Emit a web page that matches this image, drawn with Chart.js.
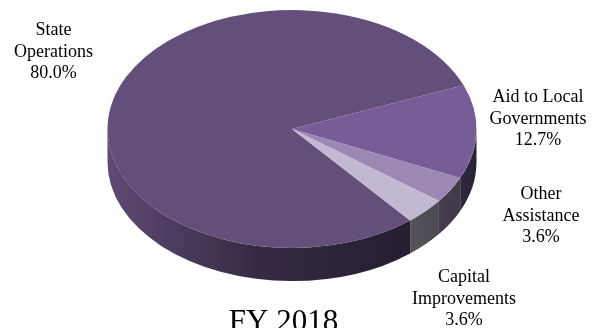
<!DOCTYPE html>
<html>
<head>
<meta charset="utf-8">
<title>FY 2018</title>
<script src="https://cdn.jsdelivr.net/npm/chart.js@4"></script>
<style>
  html, body { margin: 0; padding: 0; background: #fff; overflow: hidden; }
  canvas { display: block; }
</style>
</head>
<body>
<canvas id="chart" width="599" height="328"></canvas>
<script>
const categories = [
  ["State", "Operations"],
  ["Aid to Local", "Governments"],
  ["Other", "Assistance"],
  ["Capital", "Improvements"],
];
const shares = [80.0, 12.7, 3.6, 3.6];
const topColors = ["#644f7a", "#775d97", "#9d87b4", "#c3b8d3"];
// left, middle and right of the gradient on each slice's outer wall
const wallColors = [
  ["#5e4a73", "#352a43", "#251e30"],
  ["#2e263b", "#2c2439", "#2a2237"],
  ["#463d4c", "#443b4a", "#423948"],
  ["#58545c", "#524e57", "#4e4a53"],
];
const chartTitle = "FY 2018";

// centre of each label block and the baseline of its first line
const labelAnchors = [
  [53.5, 35],
  [538, 102],
  [541, 199],
  [464, 282],
];

const FONT = '"Liberation Serif", "Times New Roman", serif';
const centerX = 292;
const centerY = 129;
const radiusX = 184.5;
const radiusY = 119;
const depth = 33;

// keep only the part of a slice that faces the viewer (0..PI, wrapped)
function frontRanges(start, end) {
  const ranges = [];
  for (const offset of [0, Math.PI * 2]) {
    const a = Math.max(start, offset);
    const b = Math.min(end, offset + Math.PI);
    if (b > a) ranges.push([a, b]);
  }
  return ranges;
}

const pieDepth = {
  id: "pieDepth",
  beforeDatasetsDraw(chart) {
    const { ctx } = chart;
    const arcs = chart.getDatasetMeta(0).data;

    arcs.forEach((arc, i) => {
      frontRanges(arc.startAngle, arc.endAngle).forEach(([a, b]) => {
        const x1 = centerX + radiusX * Math.cos(a);
        const x2 = centerX + radiusX * Math.cos(b);
        const left = Math.min(x1, x2);
        const right = Math.max(x1, x2);
        const gradient = ctx.createLinearGradient(left, 0, right, 0);
        gradient.addColorStop(0, wallColors[i][0]);
        gradient.addColorStop(0.5, wallColors[i][1]);
        gradient.addColorStop(1, wallColors[i][2]);

        ctx.beginPath();
        ctx.ellipse(centerX, centerY, radiusX, radiusY, 0, a, b);
        ctx.ellipse(centerX, centerY + depth, radiusX, radiusY, 0, b, a, true);
        ctx.closePath();
        ctx.fillStyle = gradient;
        ctx.fill();
      });
    });

    // flatten the circle the library draws into the top face
    ctx.save();
    ctx.translate(centerX, centerY);
    ctx.scale(1, radiusY / radiusX);
    ctx.translate(-arcs[0].x, -arcs[0].y);
  },
  afterDatasetsDraw(chart) {
    chart.ctx.restore();
  },
};

const sliceLabels = {
  id: "sliceLabels",
  afterDraw(chart) {
    const { ctx } = chart;
    ctx.save();
    ctx.fillStyle = "#000";
    ctx.textAlign = "center";
    ctx.textBaseline = "alphabetic";
    ctx.font = "18px " + FONT;
    categories.forEach((lines, i) => {
      const [x, y] = labelAnchors[i];
      [...lines, shares[i].toFixed(1) + "%"].forEach((line, n) => {
        ctx.fillText(line, x, y + n * 21.5);
      });
    });
    ctx.font = "31px " + FONT;
    ctx.fillText(chartTitle, 283.5, 331);
    ctx.restore();
  },
};

new Chart(document.getElementById("chart"), {
  type: "pie",
  data: {
    labels: categories,
    datasets: [
      {
        data: shares,
        backgroundColor: topColors,
        borderWidth: 0,
        radius: radiusX,
        rotation: 140.2,
        clip: false,
      },
    ],
  },
  options: {
    responsive: false,
    animation: false,
    plugins: {
      legend: { display: false },
      tooltip: { enabled: false },
    },
  },
  plugins: [pieDepth, sliceLabels],
});
</script>
</body>
</html>
